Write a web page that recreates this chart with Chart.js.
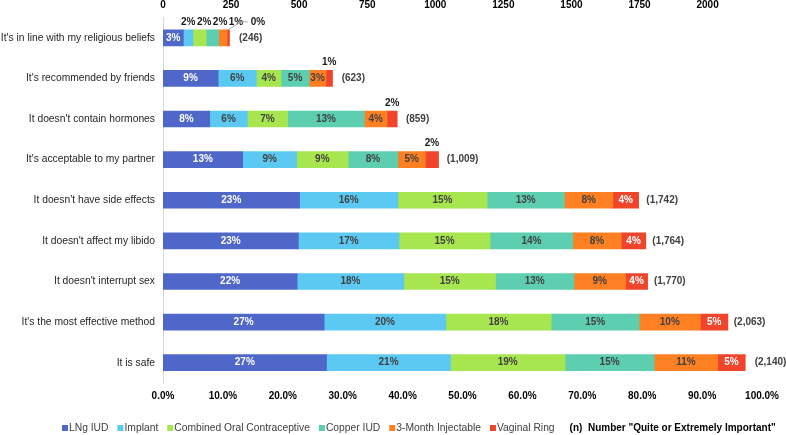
<!DOCTYPE html>
<html>
<head>
<meta charset="utf-8">
<script src="https://cdn.jsdelivr.net/npm/chart.js@4.4.1/dist/chart.umd.min.js"></script>
<style>
  html, body { margin: 0; padding: 0; background: #fff; }
  canvas { display: block; }
</style>
</head>
<body>
<canvas id="chart" width="786" height="435"></canvas>
<script>
const categories = [
  "It's in line with my religious beliefs",
  "It's recommended by friends",
  "It doesn't contain hormones",
  "It's acceptable to my partner",
  "It doesn't have side effects",
  "It doesn't affect my libido",
  "It doesn't interrupt sex",
  "It's the most effective method",
  "It is safe"
];

// (n) respondents rating the reason quite or extremely important
const counts = [246, 623, 859, 1009, 1742, 1764, 1770, 2063, 2140];

// share of all respondents, in %
const lngIud     = [3.4, 9.2, 7.8, 13.3, 22.8, 22.6, 22.4, 26.9, 27.3];
const implant    = [1.6, 6.4, 6.3, 9.0, 16.4, 16.8, 17.8, 20.3, 20.7];
const combinedOC = [2.2, 4.1, 6.7, 8.6, 14.9, 15.2, 15.3, 17.6, 19.1];
const copperIud  = [2.1, 4.7, 12.8, 8.3, 12.9, 13.8, 13.1, 14.7, 14.9];
const injectable = [1.4, 2.8, 3.8, 4.6, 8.1, 8.1, 8.6, 10.2, 10.6];
const vaginalRing = [0.4, 1.1, 1.7, 2.2, 4.3, 4.1, 3.7, 4.6, 4.6];

const seriesNames = ['LNg IUD', 'Implant', 'Combined Oral Contraceptive', 'Copper IUD', '3-Month Injectable', 'Vaginal Ring'];
const seriesData = [lngIud, implant, combinedOC, copperIud, injectable, vaginalRing];
const seriesColors = ['#4e67c8', '#5bc9f2', '#a8e650', '#5dceaf', '#ff8022', '#f0452b'];
const labelColors = ['#ffffff', '#404040', '#404040', '#404040', '#404040', '#ffffff'];

const percentTicks = [0, 10, 20, 30, 40, 50, 60, 70, 80, 90, 100];
const countTicks = [0, 250, 500, 750, 1000, 1250, 1500, 1750, 2000];
const nNote = '(n)  Number "Quite or Extremely Important"';

const FONT = '"Liberation Sans", Arial, sans-serif';
Chart.defaults.font.family = FONT;

// segment labels, small ones lifted above the bar, plus the (n) after each bar
const barLabels = {
  id: 'barLabels',
  afterDatasetsDraw(chart) {
    const ctx = chart.ctx;
    const top = chart.scales.x2;
    ctx.save();
    ctx.textBaseline = 'middle';
    chart.data.labels.forEach((cat, r) => {
      let lastRight = -Infinity;
      let rowY = 0;
      chart.data.datasets.forEach((ds, i) => {
        const bar = chart.getDatasetMeta(i).data[r];
        const w = bar.x - bar.base;
        const cx = (bar.x + bar.base) / 2;
        const text = Math.round(ds.data[r]) + '%';
        rowY = bar.y;
        ctx.font = 'bold 10px ' + FONT;
        ctx.textAlign = 'center';
        if (w > 15) {
          ctx.fillStyle = labelColors[i];
          ctx.fillText(text, cx, bar.y);
          return;
        }
        const tw = ctx.measureText(text).width;
        const barTop = bar.y - bar.height / 2;
        const ly = barTop - 8;
        let lx = Math.max(cx, lastRight + 1.5 + tw / 2);
        if (lx - cx > 18) {
          lx += 6;
          ctx.strokeStyle = '#a6a6a6';
          ctx.lineWidth = 1;
          ctx.beginPath();
          ctx.moveTo(cx, barTop);
          ctx.lineTo(lx - tw / 2 - 10, ly);
          ctx.lineTo(lx - tw / 2 - 3, ly);
          ctx.stroke();
        }
        ctx.fillStyle = '#1a1a1a';
        ctx.fillText(text, lx, ly);
        lastRight = lx + tw / 2;
      });
      ctx.textAlign = 'left';
      ctx.fillStyle = '#404040';
      ctx.fillText('(' + counts[r].toLocaleString('en-US') + ')', top.getPixelForValue(counts[r]) + 9, rowY);
    });
    ctx.restore();
  }
};

const bottomLegend = {
  id: 'bottomLegend',
  afterDraw(chart) {
    const ctx = chart.ctx;
    const y = 428;
    let x = 62;
    ctx.save();
    ctx.textBaseline = 'middle';
    ctx.textAlign = 'left';
    ctx.font = '10.3px ' + FONT;
    chart.data.datasets.forEach(ds => {
      ctx.fillStyle = ds.backgroundColor;
      ctx.fillRect(x, y - 3, 6, 6);
      x += 7;
      ctx.fillStyle = '#404040';
      ctx.fillText(ds.label, x, y);
      x += ctx.measureText(ds.label).width + 9;
    });
    ctx.font = 'bold 10px ' + FONT;
    ctx.fillStyle = '#000';
    ctx.fillText(nNote, x + 6, y);
    ctx.restore();
  }
};

new Chart(document.getElementById('chart'), {
  type: 'bar',
  data: {
    labels: categories,
    datasets: seriesNames.map((name, i) => ({
      label: name,
      data: seriesData[i],
      backgroundColor: seriesColors[i],
      borderWidth: 0,
      barThickness: 16,
      xAxisID: 'x'
    }))
  },
  options: {
    indexAxis: 'y',
    responsive: false,
    animation: false,
    layout: { padding: { left: 0, right: 23, top: 0, bottom: 26 } },
    plugins: {
      legend: { display: false },
      tooltip: { enabled: false }
    },
    scales: {
      x: {
        position: 'bottom',
        stacked: true,
        min: 0,
        max: 100,
        grid: { display: false, drawTicks: false },
        border: { display: false },
        ticks: {
          padding: 7,
          color: '#000',
          font: { size: 10, weight: 'bold' },
          callback: v => v.toFixed(1) + '%'
        },
        afterBuildTicks: s => { s.ticks = percentTicks.map(v => ({ value: v })); },
        afterFit: s => { s.height = 26; }
      },
      x2: {
        type: 'linear',
        position: 'top',
        min: 0,
        max: 2200,
        grid: { display: false, drawTicks: false },
        border: { display: false },
        ticks: {
          padding: 6,
          color: '#000',
          font: { size: 10, weight: 'bold' },
          callback: v => String(v)
        },
        afterBuildTicks: s => { s.ticks = countTicks.map(v => ({ value: v })); },
        afterFit: s => { s.height = 17.5; }
      },
      y: {
        stacked: true,
        grid: { display: false, drawTicks: false },
        border: { color: '#d9d9d9', width: 1 },
        ticks: {
          padding: 8,
          color: '#262626',
          font: { size: 10.3 }
        },
        afterFit: s => { s.width = 163; }
      }
    }
  },
  plugins: [barLabels, bottomLegend]
});
</script>
</body>
</html>
